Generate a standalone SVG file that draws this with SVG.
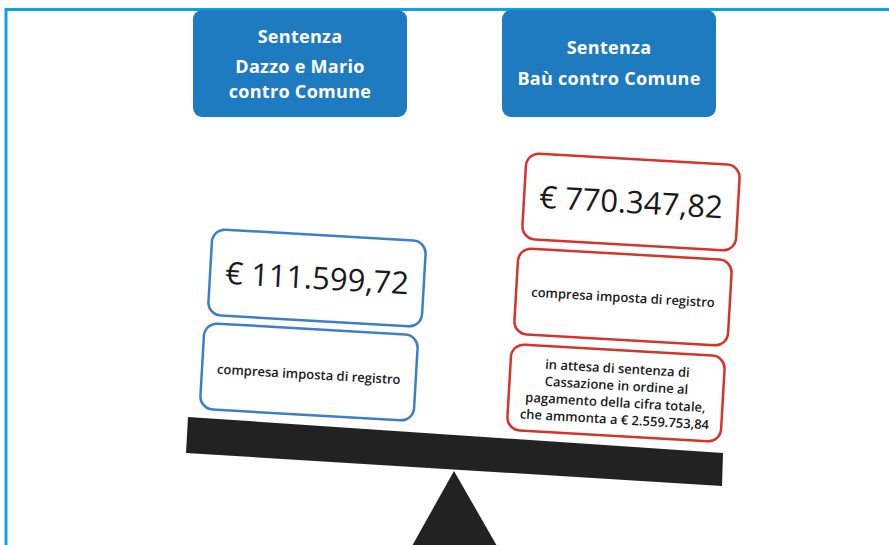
<svg xmlns="http://www.w3.org/2000/svg" width="889" height="545" viewBox="0 0 889 545">
<style>
.hdr{fill:#1f7bbf}
.ht{font-family:"Open Sans","Noto Sans",sans-serif;font-weight:700;font-size:18px;letter-spacing:0.3px;fill:#ffffff;text-anchor:middle}
.bb{fill:#ffffff;stroke:#3c7fc8;stroke-width:2.5}
.rb{fill:#ffffff;stroke:#d3352c;stroke-width:2.5}
.big{font-family:"Open Sans","Noto Sans",sans-serif;font-size:31px;fill:#1a1a1a;text-anchor:middle}
.sm{font-family:"Open Sans","Noto Sans",sans-serif;font-size:13px;font-weight:600;fill:#1a1a1a;text-anchor:middle}
.md{font-family:"Open Sans","Noto Sans",sans-serif;font-size:13px;font-weight:600;fill:#1a1a1a;text-anchor:middle}
.dark{fill:#222222}
</style>
<rect x="0" y="0" width="889" height="545" fill="#ffffff"/>
<path d="M6 545 V9.5 H889" fill="none" stroke="#0ea2e0" stroke-width="3"/>

<g id="header-left">
<rect class="hdr" x="193" y="10" width="214" height="107" rx="9"/>
<text class="ht" x="300" y="43">Sentenza</text>
<text class="ht" x="300" y="73">Dazzo e Mario</text>
<text class="ht" x="300" y="98">contro Comune</text>
</g>
<g id="header-right">
<rect class="hdr" x="502" y="10" width="214" height="107" rx="9"/>
<text class="ht" x="609" y="54">Sentenza</text>
<text class="ht" x="609" y="85">Baù contro Comune</text>
</g>

<g id="beam">
<polygon class="dark" points="188,417 723,453 722,486 186,453"/>
<polygon class="dark" points="454,471 497,546 412,546"/>
</g>

<g id="left-amount" transform="rotate(3.3 317 278)">
<rect class="bb" x="210" y="235" width="214" height="86" rx="13"/>
<text class="big" x="317" y="289">€ 111.599,72</text>
</g>
<g id="left-note" transform="rotate(3.3 309 372)">
<rect class="bb" x="202" y="329" width="214" height="86" rx="13"/>
<text class="sm" x="309" y="379">compresa imposta di registro</text>
</g>

<g id="right-amount" transform="rotate(3.3 631 202)">
<rect class="rb" x="524" y="159" width="214" height="86" rx="13"/>
<text class="big" x="631" y="213">€ 770.347,82</text>
</g>
<g id="right-note" transform="rotate(3.3 623 297)">
<rect class="rb" x="516" y="254" width="214" height="86" rx="13"/>
<text class="sm" x="623" y="302">compresa imposta di registro</text>
</g>
<g id="right-pending" transform="rotate(3.3 616 393)">
<rect class="rb" x="509" y="350" width="214" height="86" rx="13"/>
<text class="md" x="616" y="373">in attesa di sentenza di</text>
<text class="md" x="616" y="390">Cassazione in ordine al</text>
<text class="md" x="616" y="407">pagamento della cifra totale,</text>
<text class="md" x="616" y="424">che ammonta a € 2.559.753,84</text>
</g>
</svg>
